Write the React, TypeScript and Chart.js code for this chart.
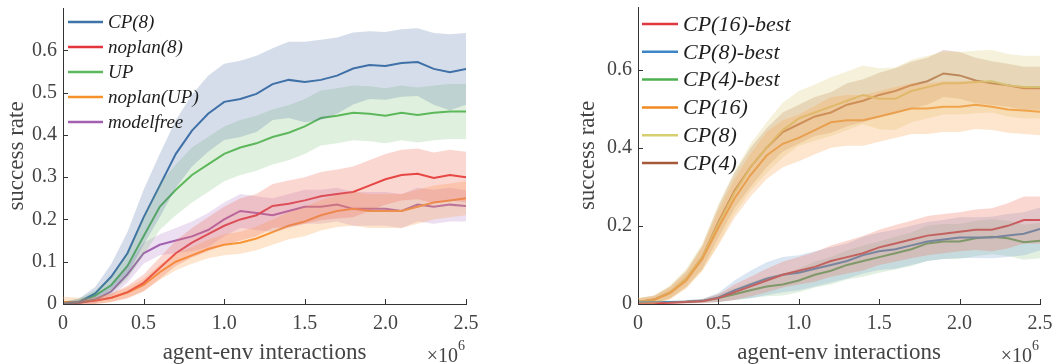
import React, { useEffect, useRef } from "react";
import { Chart, registerables } from "chart.js";

Chart.register(...registerables);

const X_STEPS = [0, 0.1, 0.2, 0.3, 0.4, 0.5, 0.6, 0.7, 0.8, 0.9, 1.0, 1.1, 1.2, 1.3, 1.4, 1.5, 1.6, 1.7, 1.8, 1.9, 2.0, 2.1, 2.2, 2.3, 2.4, 2.5];
const X_TICKS = [0, 0.5, 1, 1.5, 2, 2.5];
const LEFT_Y_TICKS = [0, 0.1, 0.2, 0.3, 0.4, 0.5, 0.6];
const RIGHT_Y_TICKS = [0, 0.2, 0.4, 0.6];

// Left panel
const CP8_MEAN = [0, 0.005, 0.025, 0.065, 0.12, 0.205, 0.28, 0.355, 0.41, 0.45, 0.478, 0.485, 0.497, 0.52, 0.53, 0.525, 0.53, 0.54, 0.557, 0.565, 0.563, 0.57, 0.572, 0.556, 0.548, 0.556];
const CP8_SPREAD = [0.005, 0.008, 0.015, 0.03, 0.05, 0.065, 0.075, 0.08, 0.085, 0.09, 0.09, 0.09, 0.09, 0.085, 0.09, 0.095, 0.095, 0.09, 0.085, 0.08, 0.08, 0.08, 0.08, 0.085, 0.09, 0.085];
const NOPLAN8_MEAN = [0, 0.003, 0.008, 0.015, 0.028, 0.05, 0.085, 0.12, 0.145, 0.165, 0.185, 0.2, 0.21, 0.232, 0.237, 0.245, 0.255, 0.26, 0.265, 0.28, 0.295, 0.305, 0.308, 0.298, 0.305, 0.3];
const NOPLAN8_SPREAD = [0.005, 0.005, 0.008, 0.01, 0.015, 0.02, 0.025, 0.03, 0.035, 0.04, 0.045, 0.05, 0.05, 0.052, 0.055, 0.055, 0.057, 0.058, 0.06, 0.06, 0.06, 0.06, 0.06, 0.06, 0.06, 0.06];
const UP_MEAN = [0, 0.005, 0.02, 0.045, 0.09, 0.16, 0.23, 0.27, 0.305, 0.33, 0.355, 0.37, 0.38, 0.395, 0.405, 0.42, 0.44, 0.445, 0.452, 0.45, 0.445, 0.452, 0.447, 0.452, 0.455, 0.455];
const UP_SPREAD = [0.005, 0.008, 0.012, 0.02, 0.03, 0.045, 0.055, 0.06, 0.065, 0.065, 0.065, 0.065, 0.065, 0.065, 0.065, 0.065, 0.065, 0.065, 0.065, 0.065, 0.065, 0.065, 0.065, 0.065, 0.065, 0.065];
const NOPLANUP_MEAN = [0.005, 0.005, 0.008, 0.015, 0.027, 0.045, 0.075, 0.1, 0.115, 0.13, 0.14, 0.145, 0.155, 0.17, 0.185, 0.195, 0.21, 0.22, 0.225, 0.22, 0.22, 0.22, 0.23, 0.24, 0.245, 0.25];
const NOPLANUP_SPREAD = [0.012, 0.01, 0.008, 0.01, 0.012, 0.015, 0.018, 0.02, 0.02, 0.022, 0.025, 0.026, 0.028, 0.03, 0.032, 0.035, 0.036, 0.038, 0.04, 0.04, 0.04, 0.04, 0.04, 0.04, 0.04, 0.04];
const MODELFREE_MEAN = [0, 0.003, 0.01, 0.03, 0.07, 0.12, 0.14, 0.15, 0.16, 0.175, 0.2, 0.22, 0.215, 0.21, 0.22, 0.23, 0.23, 0.235, 0.225, 0.225, 0.225, 0.22, 0.235, 0.23, 0.235, 0.232];
const MODELFREE_SPREAD = [0.005, 0.005, 0.008, 0.012, 0.02, 0.025, 0.025, 0.03, 0.035, 0.04, 0.04, 0.04, 0.04, 0.04, 0.04, 0.04, 0.04, 0.04, 0.04, 0.04, 0.04, 0.04, 0.04, 0.04, 0.04, 0.037];

// Right panel
const CP16B_MEAN = [0, 0.002, 0.003, 0.005, 0.007, 0.015, 0.03, 0.045, 0.06, 0.075, 0.085, 0.095, 0.11, 0.12, 0.13, 0.145, 0.155, 0.165, 0.175, 0.18, 0.185, 0.19, 0.19, 0.2, 0.215, 0.215];
const CP16B_SPREAD = [0.003, 0.003, 0.003, 0.004, 0.005, 0.01, 0.02, 0.025, 0.03, 0.033, 0.035, 0.038, 0.04, 0.042, 0.044, 0.045, 0.047, 0.048, 0.05, 0.05, 0.05, 0.052, 0.055, 0.058, 0.06, 0.06];
const CP8B_MEAN = [0.005, 0.005, 0.005, 0.006, 0.008, 0.017, 0.035, 0.05, 0.065, 0.075, 0.08, 0.09, 0.1, 0.11, 0.125, 0.135, 0.14, 0.15, 0.16, 0.165, 0.17, 0.17, 0.17, 0.175, 0.18, 0.192];
const CP8B_SPREAD = [0.003, 0.003, 0.003, 0.004, 0.005, 0.012, 0.025, 0.035, 0.042, 0.045, 0.045, 0.045, 0.045, 0.045, 0.047, 0.048, 0.05, 0.05, 0.05, 0.05, 0.052, 0.052, 0.053, 0.055, 0.055, 0.055];
const CP4B_MEAN = [0.005, 0.005, 0.005, 0.006, 0.008, 0.015, 0.025, 0.035, 0.045, 0.05, 0.06, 0.075, 0.085, 0.1, 0.11, 0.12, 0.13, 0.14, 0.155, 0.16, 0.16, 0.168, 0.172, 0.168, 0.158, 0.162];
const CP4B_SPREAD = [0.003, 0.003, 0.003, 0.004, 0.005, 0.01, 0.015, 0.02, 0.025, 0.028, 0.03, 0.033, 0.035, 0.037, 0.04, 0.04, 0.042, 0.043, 0.045, 0.045, 0.045, 0.045, 0.045, 0.045, 0.045, 0.045];
const CP16_MEAN = [0.005, 0.01, 0.028, 0.06, 0.115, 0.195, 0.27, 0.33, 0.38, 0.41, 0.425, 0.445, 0.465, 0.47, 0.47, 0.48, 0.49, 0.5, 0.5, 0.505, 0.505, 0.51, 0.505, 0.498, 0.495, 0.492];
const CP16_SPREAD = [0.01, 0.01, 0.015, 0.02, 0.03, 0.045, 0.05, 0.055, 0.06, 0.06, 0.06, 0.062, 0.065, 0.065, 0.065, 0.065, 0.065, 0.065, 0.065, 0.065, 0.065, 0.062, 0.06, 0.06, 0.06, 0.06];
const CP8R_MEAN = [0.005, 0.01, 0.03, 0.065, 0.12, 0.205, 0.285, 0.35, 0.4, 0.445, 0.475, 0.49, 0.505, 0.52, 0.535, 0.525, 0.525, 0.545, 0.555, 0.565, 0.565, 0.568, 0.57, 0.56, 0.555, 0.555];
const CP8R_SPREAD = [0.01, 0.012, 0.018, 0.025, 0.035, 0.05, 0.055, 0.06, 0.065, 0.07, 0.07, 0.072, 0.075, 0.075, 0.075, 0.078, 0.08, 0.08, 0.08, 0.08, 0.08, 0.08, 0.08, 0.08, 0.08, 0.08];
const CP4_MEAN = [0.005, 0.012, 0.03, 0.065, 0.12, 0.21, 0.29, 0.35, 0.4, 0.44, 0.46, 0.48, 0.49, 0.51, 0.52, 0.535, 0.545, 0.56, 0.57, 0.59, 0.585, 0.572, 0.565, 0.56, 0.552, 0.552];
const CP4_SPREAD = [0.01, 0.01, 0.015, 0.02, 0.03, 0.04, 0.045, 0.05, 0.05, 0.05, 0.05, 0.05, 0.052, 0.055, 0.055, 0.057, 0.058, 0.06, 0.06, 0.06, 0.06, 0.058, 0.056, 0.055, 0.055, 0.055];

type Series = { label: string; mean: number[]; spread: number[]; color: string; band: string };

const LEFT_SERIES: Series[] = [
  { label: "CP(8)", mean: CP8_MEAN, spread: CP8_SPREAD, color: "#3f74a9", band: "rgba(63,100,160,0.22)" },
  { label: "noplan(8)", mean: NOPLAN8_MEAN, spread: NOPLAN8_SPREAD, color: "#e2363c", band: "rgba(240,110,90,0.28)" },
  { label: "UP", mean: UP_MEAN, spread: UP_SPREAD, color: "#5cb85c", band: "rgba(100,180,90,0.2)" },
  { label: "noplan(UP)", mean: NOPLANUP_MEAN, spread: NOPLANUP_SPREAD, color: "#f7922b", band: "rgba(250,160,80,0.28)" },
  { label: "modelfree", mean: MODELFREE_MEAN, spread: MODELFREE_SPREAD, color: "#a35fb0", band: "rgba(170,110,190,0.22)" },
];

const RIGHT_SERIES: Series[] = [
  { label: "CP(16)-best", mean: CP16B_MEAN, spread: CP16B_SPREAD, color: "#e0383e", band: "rgba(240,110,90,0.28)" },
  { label: "CP(8)-best", mean: CP8B_MEAN, spread: CP8B_SPREAD, color: "#3d85c6", band: "rgba(90,140,200,0.22)" },
  { label: "CP(4)-best", mean: CP4B_MEAN, spread: CP4B_SPREAD, color: "#4caf50", band: "rgba(110,180,110,0.2)" },
  { label: "CP(16)", mean: CP16_MEAN, spread: CP16_SPREAD, color: "#f28a22", band: "rgba(250,160,80,0.28)" },
  { label: "CP(8)", mean: CP8R_MEAN, spread: CP8R_SPREAD, color: "#d8d070", band: "rgba(225,215,150,0.35)" },
  { label: "CP(4)", mean: CP4_MEAN, spread: CP4_SPREAD, color: "#a65a3c", band: "rgba(180,110,70,0.28)" },
];

const FONT = "'Liberation Serif', 'DejaVu Serif', serif";
const TEXT = "#444444";
const AXIS = "#333333";

type PanelCfg = {
  left: number;
  width: number;
  height: number;
  series: Series[];
  yTicks: number[];
  yMax: number;
  yAxisWidth: number;
  padRight: number;
  padTop: number;
  yTitlePad: number;
  legend: { lineX0: number; lineX1: number; textX: number; y0: number; dy: number; size: number };
};

const LEFT_CFG: PanelCfg = {
  left: 0, width: 480, height: 364, series: LEFT_SERIES, yTicks: LEFT_Y_TICKS, yMax: 0.7,
  yAxisWidth: 63, padRight: 14, padTop: 8, yTitlePad: 5,
  legend: { lineX0: 68, lineX1: 103, textX: 108, y0: 22, dy: 25, size: 19 },
};

const RIGHT_CFG: PanelCfg = {
  left: 560, width: 497, height: 364, series: RIGHT_SERIES, yTicks: RIGHT_Y_TICKS, yMax: 0.76,
  yAxisWidth: 78, padRight: 17, padTop: 7, yTitlePad: 16,
  legend: { lineX0: 82, lineX1: 118, textX: 123, y0: 24, dy: 27.8, size: 22 },
};

function Panel({ cfg }: { cfg: PanelCfg }) {
  const ref = useRef<HTMLCanvasElement>(null);
  useEffect(() => {
    if (!ref.current) return;
    const bands: any[] = [];
    const lines: any[] = [];
    cfg.series.forEach((s) => {
      bands.push({
        label: s.label + " upper",
        data: X_STEPS.map((x, i) => ({ x, y: s.mean[i] + s.spread[i] })),
        borderWidth: 0, pointRadius: 0, fill: "+1", backgroundColor: s.band, borderColor: "transparent",
      });
      bands.push({
        label: s.label + " lower",
        data: X_STEPS.map((x, i) => ({ x, y: Math.max(0, s.mean[i] - s.spread[i]) })),
        borderWidth: 0, pointRadius: 0, fill: false, borderColor: "transparent",
      });
      lines.push({
        label: s.label,
        data: X_STEPS.map((x, i) => ({ x, y: s.mean[i] })),
        borderWidth: 2, pointRadius: 0, fill: false, borderColor: s.color, tension: 0,
      });
    });

    const decor = {
      id: "decor",
      afterDraw(chart: any) {
        const ctx = chart.ctx;
        const xs = chart.scales.x;
        const ys = chart.scales.y;
        const area = chart.chartArea;
        ctx.save();
        // inward tick marks
        ctx.strokeStyle = AXIS;
        ctx.lineWidth = 1;
        X_TICKS.forEach((v) => {
          const px = Math.round(xs.getPixelForValue(v)) + 0.5;
          ctx.beginPath();
          ctx.moveTo(px, area.bottom);
          ctx.lineTo(px, area.bottom - 5);
          ctx.stroke();
        });
        cfg.yTicks.forEach((v) => {
          const py = Math.round(ys.getPixelForValue(v)) + 0.5;
          ctx.beginPath();
          ctx.moveTo(area.left, py);
          ctx.lineTo(area.left + 5, py);
          ctx.stroke();
        });
        // legend
        const L = cfg.legend;
        ctx.font = `italic ${L.size}px ${FONT}`;
        ctx.textBaseline = "middle";
        ctx.textAlign = "left";
        cfg.series.forEach((s, i) => {
          const y = L.y0 + i * L.dy;
          ctx.strokeStyle = s.color;
          ctx.lineWidth = 2.5;
          ctx.beginPath();
          ctx.moveTo(L.lineX0, y);
          ctx.lineTo(L.lineX1, y);
          ctx.stroke();
          ctx.fillStyle = "#1e1e1e";
          ctx.fillText(s.label, L.textX, y + 1);
        });
        // x10^6 multiplier
        ctx.fillStyle = TEXT;
        ctx.textAlign = "right";
        ctx.textBaseline = "alphabetic";
        ctx.font = `14px ${FONT}`;
        const sx = area.right - 1;
        ctx.fillText("6", sx, 350);
        const w6 = ctx.measureText("6").width;
        ctx.font = `20px ${FONT}`;
        ctx.fillText("\u00d710", sx - w6, 362);
        ctx.restore();
      },
    };

    const chart = new Chart(ref.current, {
      type: "line",
      data: { datasets: [...bands, ...lines] },
      options: {
        animation: false,
        responsive: false,
        devicePixelRatio: 1,
        parsing: false as any,
        layout: { padding: { top: cfg.padTop, right: cfg.padRight, left: 0, bottom: 0 } },
        plugins: { legend: { display: false }, tooltip: { enabled: false }, filler: { propagate: false } },
        scales: {
          x: {
            type: "linear",
            min: 0,
            max: 2.5,
            afterBuildTicks: (scale: any) => { scale.ticks = X_TICKS.map((v) => ({ value: v })); },
            afterFit: (scale: any) => {
              scale.height = 60;
              scale.paddingLeft = 0;
              scale.paddingRight = 0;
            },
            grid: { display: true, drawOnChartArea: false, drawTicks: false },
            border: { display: true, color: AXIS, width: 1 },
            ticks: { color: TEXT, font: { family: FONT, size: 20 }, padding: 8, maxRotation: 0 },
            title: {
              display: true, text: "agent-env interactions", color: TEXT,
              font: { family: FONT, size: 23, lineHeight: 1 }, padding: { top: 0, bottom: 0 },
            },
          },
          y: {
            type: "linear",
            min: 0,
            max: cfg.yMax,
            afterBuildTicks: (scale: any) => { scale.ticks = cfg.yTicks.map((v) => ({ value: v })); },
            afterFit: (scale: any) => {
              scale.width = cfg.yAxisWidth;
              scale.paddingTop = 0;
              scale.paddingBottom = 0;
            },
            grid: { display: true, drawOnChartArea: false, drawTicks: false },
            border: { display: true, color: AXIS, width: 1 },
            ticks: { color: TEXT, font: { family: FONT, size: 20 }, padding: 6 },
            title: {
              display: true, text: "success rate", color: TEXT,
              font: { family: FONT, size: 23, lineHeight: 1 }, padding: { top: cfg.yTitlePad, bottom: 0 },
            },
          },
        },
      } as any,
      plugins: [decor],
    });
    return () => chart.destroy();
  }, [cfg]);
  return (
    <div style={{ position: "absolute", left: cfg.left, top: 0, width: cfg.width, height: cfg.height }}>
      <canvas ref={ref} width={cfg.width} height={cfg.height} style={{ width: cfg.width, height: cfg.height, display: "block" }} />
    </div>
  );
}

export default function App() {
  return (
    <div style={{ position: "absolute", left: 0, top: 0, width: 1057, height: 364, background: "#fff", overflow: "hidden" }}>
      <Panel cfg={LEFT_CFG} />
      <Panel cfg={RIGHT_CFG} />
    </div>
  );
}
